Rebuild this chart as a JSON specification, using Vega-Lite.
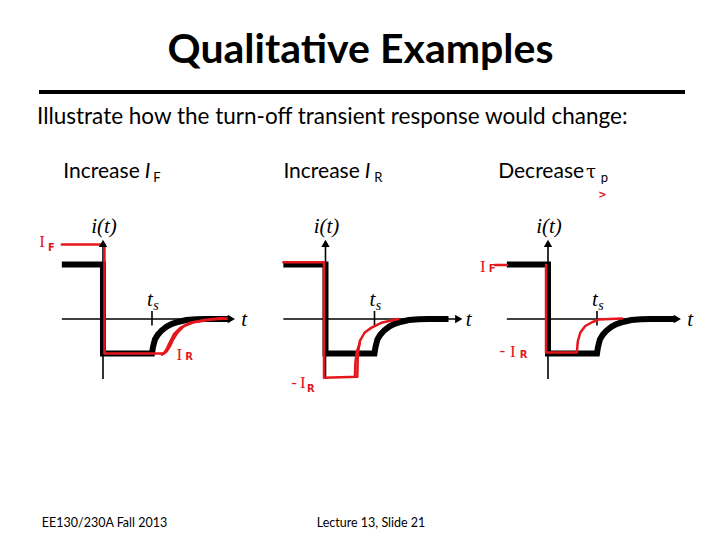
{
"$schema":"https://vega.github.io/schema/vega-lite/v6.json",
"background":"white",
"padding":{"left":37,"top":30,"right":0,"bottom":0},
"title":{"text":"Qualitative Examples","font":"Lato","fontSize":41,"fontWeight":"bold","color":"black","anchor":"middle","offset":5,"dx":-10},
"config":{"view":{"stroke":null},"font":"Lato"},
"datasets":{"d":[
{"panel":"P1","kind":"axis","t":-0.84,"i":0,"t2":2.58,"i2":0},
{"panel":"P1","kind":"axis","t":0,"i":-1.11,"t2":0,"i2":1.38},
{"panel":"P1","kind":"axis","t":1.0,"i":0.15,"t2":1.0,"i2":-0.12},
{"panel":"P1","kind":"arrR","t":2.62,"i":0},
{"panel":"P1","kind":"arrU","t":0,"i":1.4},
{"panel":"P2","kind":"axis","t":-0.86,"i":0,"t2":2.7,"i2":0},
{"panel":"P2","kind":"axis","t":0,"i":-1.11,"t2":0,"i2":1.38},
{"panel":"P2","kind":"axis","t":1.0,"i":0.15,"t2":1.0,"i2":-0.12},
{"panel":"P2","kind":"arrR","t":2.72,"i":0},
{"panel":"P2","kind":"arrU","t":0,"i":1.4},
{"panel":"P3","kind":"axis","t":-0.84,"i":0,"t2":2.6,"i2":0},
{"panel":"P3","kind":"axis","t":0,"i":-1.11,"t2":0,"i2":1.38},
{"panel":"P3","kind":"axis","t":1.0,"i":0.15,"t2":1.0,"i2":-0.12},
{"panel":"P3","kind":"arrR","t":2.64,"i":0},
{"panel":"P3","kind":"arrU","t":0,"i":1.4},

{"panel":"P1","kind":"black","seg":"a","k":1,"t":-0.84,"i":1.01},
{"panel":"P1","kind":"black","seg":"a","k":2,"t":0,"i":1.01},
{"panel":"P1","kind":"black","seg":"a","k":3,"t":0,"i":-0.64},
{"panel":"P1","kind":"black","seg":"a","k":4,"t":1.0,"i":-0.64},
{"panel":"P1","kind":"black","seg":"a","k":5,"t":1.02,"i":-0.52},
{"panel":"P1","kind":"black","seg":"a","k":6,"t":1.06,"i":-0.38},
{"panel":"P1","kind":"black","seg":"a","k":7,"t":1.12,"i":-0.29},
{"panel":"P1","kind":"black","seg":"a","k":8,"t":1.2,"i":-0.21},
{"panel":"P1","kind":"black","seg":"a","k":9,"t":1.3,"i":-0.14},
{"panel":"P1","kind":"black","seg":"a","k":10,"t":1.41,"i":-0.09},
{"panel":"P1","kind":"black","seg":"a","k":11,"t":1.55,"i":-0.05},
{"panel":"P1","kind":"black","seg":"a","k":12,"t":1.7,"i":-0.02},
{"panel":"P1","kind":"black","seg":"a","k":13,"t":1.9,"i":-0.005},
{"panel":"P1","kind":"black","seg":"a","k":14,"t":2.1,"i":0},
{"panel":"P1","kind":"black","seg":"a","k":15,"t":2.58,"i":0},

{"panel":"P2","kind":"black","seg":"a","k":1,"t":-0.86,"i":1.01},
{"panel":"P2","kind":"black","seg":"a","k":2,"t":0,"i":1.01},
{"panel":"P2","kind":"black","seg":"a","k":3,"t":0,"i":-0.64},
{"panel":"P2","kind":"black","seg":"a","k":4,"t":1.0,"i":-0.64},
{"panel":"P2","kind":"black","seg":"a","k":5,"t":1.02,"i":-0.52},
{"panel":"P2","kind":"black","seg":"a","k":6,"t":1.06,"i":-0.38},
{"panel":"P2","kind":"black","seg":"a","k":7,"t":1.12,"i":-0.29},
{"panel":"P2","kind":"black","seg":"a","k":8,"t":1.2,"i":-0.21},
{"panel":"P2","kind":"black","seg":"a","k":9,"t":1.3,"i":-0.14},
{"panel":"P2","kind":"black","seg":"a","k":10,"t":1.41,"i":-0.09},
{"panel":"P2","kind":"black","seg":"a","k":11,"t":1.55,"i":-0.05},
{"panel":"P2","kind":"black","seg":"a","k":12,"t":1.7,"i":-0.02},
{"panel":"P2","kind":"black","seg":"a","k":13,"t":1.9,"i":-0.005},
{"panel":"P2","kind":"black","seg":"a","k":14,"t":2.1,"i":0},
{"panel":"P2","kind":"black","seg":"a","k":15,"t":2.51,"i":0},

{"panel":"P3","kind":"black","seg":"a","k":1,"t":-0.84,"i":1.01},
{"panel":"P3","kind":"black","seg":"a","k":2,"t":0,"i":1.01},
{"panel":"P3","kind":"black","seg":"a","k":3,"t":0,"i":-0.64},
{"panel":"P3","kind":"black","seg":"a","k":4,"t":1.0,"i":-0.64},
{"panel":"P3","kind":"black","seg":"a","k":5,"t":1.02,"i":-0.52},
{"panel":"P3","kind":"black","seg":"a","k":6,"t":1.06,"i":-0.38},
{"panel":"P3","kind":"black","seg":"a","k":7,"t":1.12,"i":-0.29},
{"panel":"P3","kind":"black","seg":"a","k":8,"t":1.2,"i":-0.21},
{"panel":"P3","kind":"black","seg":"a","k":9,"t":1.3,"i":-0.14},
{"panel":"P3","kind":"black","seg":"a","k":10,"t":1.41,"i":-0.09},
{"panel":"P3","kind":"black","seg":"a","k":11,"t":1.55,"i":-0.05},
{"panel":"P3","kind":"black","seg":"a","k":12,"t":1.7,"i":-0.02},
{"panel":"P3","kind":"black","seg":"a","k":13,"t":1.9,"i":-0.005},
{"panel":"P3","kind":"black","seg":"a","k":14,"t":2.1,"i":0},
{"panel":"P3","kind":"black","seg":"a","k":15,"t":2.59,"i":0},

{"panel":"P1","kind":"red","seg":"a","k":1,"t":-0.84,"i":1.38},
{"panel":"P1","kind":"red","seg":"a","k":2,"t":0.03,"i":1.38},
{"panel":"P1","kind":"red","seg":"a","k":3,"t":0.03,"i":-0.64},
{"panel":"P1","kind":"red","seg":"a","k":4,"t":1.24,"i":-0.64},
{"panel":"P1","kind":"red","seg":"a","k":5,"t":1.3,"i":-0.56},
{"panel":"P1","kind":"red","seg":"a","k":6,"t":1.35,"i":-0.46},
{"panel":"P1","kind":"red","seg":"a","k":7,"t":1.45,"i":-0.28},
{"panel":"P1","kind":"red","seg":"a","k":8,"t":1.57,"i":-0.17},
{"panel":"P1","kind":"red","seg":"a","k":9,"t":1.78,"i":-0.07},
{"panel":"P1","kind":"red","seg":"a","k":10,"t":2.08,"i":-0.02},
{"panel":"P1","kind":"red","seg":"a","k":11,"t":2.43,"i":0.02},
{"panel":"P1","kind":"red","seg":"a","k":12,"t":2.57,"i":0},
{"panel":"P1","kind":"red","seg":"b","k":1,"t":1.2,"i":-0.66},
{"panel":"P1","kind":"red","seg":"b","k":2,"t":1.3,"i":-0.6},
{"panel":"P1","kind":"red","seg":"b","k":3,"t":1.37,"i":-0.5},
{"panel":"P1","kind":"red","seg":"b","k":4,"t":1.43,"i":-0.38},
{"panel":"P1","kind":"red","seg":"b","k":5,"t":1.52,"i":-0.25},
{"panel":"P1","kind":"red","seg":"b","k":6,"t":1.65,"i":-0.13},
{"panel":"P1","kind":"red","seg":"b","k":7,"t":1.85,"i":-0.06},
{"panel":"P1","kind":"red","seg":"b","k":8,"t":2.2,"i":-0.01},
{"panel":"P1","kind":"red","seg":"b","k":9,"t":2.5,"i":0.01},

{"panel":"P2","kind":"red","seg":"a","k":1,"t":-0.86,"i":1.05},
{"panel":"P2","kind":"red","seg":"a","k":2,"t":-0.03,"i":1.05},
{"panel":"P2","kind":"red","seg":"a","k":3,"t":-0.03,"i":-1.09},
{"panel":"P2","kind":"red","seg":"a","k":4,"t":0.65,"i":-1.07},
{"panel":"P2","kind":"red","seg":"a","k":5,"t":0.66,"i":-0.65},
{"panel":"P2","kind":"red","seg":"a","k":6,"t":0.7,"i":-0.41},
{"panel":"P2","kind":"red","seg":"a","k":7,"t":0.8,"i":-0.25},
{"panel":"P2","kind":"red","seg":"a","k":8,"t":0.94,"i":-0.16},
{"panel":"P2","kind":"red","seg":"a","k":9,"t":1.14,"i":-0.07},
{"panel":"P2","kind":"red","seg":"a","k":10,"t":1.48,"i":0},
{"panel":"P2","kind":"red","seg":"b","k":1,"t":0.6,"i":-1.07},
{"panel":"P2","kind":"red","seg":"b","k":2,"t":0.61,"i":-0.8},
{"panel":"P2","kind":"red","seg":"b","k":3,"t":0.64,"i":-0.6},
{"panel":"P2","kind":"red","seg":"b","k":4,"t":0.7,"i":-0.45},

{"panel":"P3","kind":"red","seg":"a","k":1,"t":-0.04,"i":1.0},
{"panel":"P3","kind":"red","seg":"a","k":2,"t":-0.04,"i":-0.62},
{"panel":"P3","kind":"red","seg":"a","k":3,"t":0.59,"i":-0.62},
{"panel":"P3","kind":"red","seg":"a","k":4,"t":0.6,"i":-0.5},
{"panel":"P3","kind":"red","seg":"a","k":5,"t":0.61,"i":-0.41},
{"panel":"P3","kind":"red","seg":"a","k":6,"t":0.66,"i":-0.25},
{"panel":"P3","kind":"red","seg":"a","k":7,"t":0.76,"i":-0.13},
{"panel":"P3","kind":"red","seg":"a","k":8,"t":0.9,"i":-0.06},
{"panel":"P3","kind":"red","seg":"a","k":9,"t":1.03,"i":-0.01},
{"panel":"P3","kind":"red","seg":"a","k":10,"t":1.51,"i":0.01},
{"panel":"P3","kind":"red","seg":"c","k":1,"t":-1.08,"i":1.0},
{"panel":"P3","kind":"red","seg":"c","k":2,"t":-0.84,"i":1.0},

{"panel":"P1","kind":"head","label":"Increase","t":-0.03,"i":2.62},
{"panel":"P1","kind":"headI","label":"I","t":0.908,"i":2.62},
{"panel":"P1","kind":"headSub","label":"F","t":1.1,"i":2.54},
{"panel":"P2","kind":"head","label":"Increase","t":-0.08,"i":2.62},
{"panel":"P2","kind":"headI","label":"I","t":0.857,"i":2.62},
{"panel":"P2","kind":"headSub","label":"R","t":1.08,"i":2.54},
{"panel":"P3","kind":"head","label":"Decrease","t":-0.14,"i":2.62},
{"panel":"P3","kind":"headG","label":"τ","t":0.88,"i":2.62},
{"panel":"P3","kind":"headSub","label":"p","t":1.15,"i":2.54},

{"panel":"P1","kind":"math","label":"i(t)","t":0.02,"i":1.7},
{"panel":"P2","kind":"math","label":"i(t)","t":0.02,"i":1.7},
{"panel":"P3","kind":"math","label":"i(t)","t":0.02,"i":1.7},
{"panel":"P1","kind":"math","label":"t","t":0.96,"i":0.36},
{"panel":"P2","kind":"math","label":"t","t":0.96,"i":0.36},
{"panel":"P3","kind":"math","label":"t","t":0.96,"i":0.36},
{"panel":"P1","kind":"mathSub","label":"s","t":1.08,"i":0.24},
{"panel":"P2","kind":"mathSub","label":"s","t":1.08,"i":0.24},
{"panel":"P3","kind":"mathSub","label":"s","t":1.08,"i":0.24},
{"panel":"P1","kind":"math","label":"t","t":2.88,"i":-0.02},
{"panel":"P2","kind":"math","label":"t","t":2.92,"i":-0.02},
{"panel":"P3","kind":"math","label":"t","t":2.9,"i":-0.02},

{"panel":"P1","kind":"redL","label":"I","t":-1.245,"i":1.43},
{"panel":"P1","kind":"redS","label":"F","t":-1.05,"i":1.32},
{"panel":"P1","kind":"redL","label":"I","t":1.56,"i":-0.67},
{"panel":"P1","kind":"redS","label":"R","t":1.755,"i":-0.71},
{"panel":"P2","kind":"redL","label":"-","t":-0.64,"i":-1.18},
{"panel":"P2","kind":"redL","label":"I","t":-0.46,"i":-1.19},
{"panel":"P2","kind":"redS","label":"R","t":-0.3,"i":-1.29},
{"panel":"P3","kind":"redL","label":"I","t":-1.33,"i":0.96},
{"panel":"P3","kind":"redS","label":"F","t":-1.14,"i":0.92},
{"panel":"P3","kind":"redL","label":"-","t":-0.93,"i":-0.6},
{"panel":"P3","kind":"redL","label":"I","t":-0.72,"i":-0.61},
{"panel":"P3","kind":"redS","label":"R","t":-0.5,"i":-0.67},
{"panel":"P3","kind":"redS","label":">","t":1.11,"i":2.29},

{"panel":"P1","kind":"foot","label":"EE130/230A Fall 2013","t":0.03,"i":-3.78},
{"panel":"P2","kind":"foot","label":"Lecture 13, Slide 21","t":0.93,"i":-3.78}
]},
"spacing":65,
"bounds":"flush",
"vconcat":[
{"width":646,"height":15,
 "title":{"text":"Illustrate how the turn-off transient response would change:","orient":"bottom","anchor":"start","font":"Lato","fontSize":22.5,"fontWeight":"normal","color":"black","offset":12},
 "data":{"values":[{}]},
 "mark":{"type":"rule","strokeWidth":4,"color":"black"},
 "encoding":{"y":{"datum":0,"type":"quantitative","scale":{"domain":[0,1]},"axis":null}}},
{"data":{"name":"d"},
 "facet":{"column":{"field":"panel","type":"nominal","header":null}},
 "spacing":2.5,
 "bounds":"flush",
 "spec":{
  "width":220,"height":378,
  "encoding":{
   "x":{"field":"t","type":"quantitative","scale":{"domain":[-1.306,3.184],"nice":false,"zero":false},"axis":null},
   "y":{"field":"i","type":"quantitative","scale":{"domain":[-4.0,3.0],"nice":false,"zero":false},"axis":null}
  },
  "layer":[
   {"transform":[{"filter":"datum.kind==='axis'"}],"mark":{"type":"rule","strokeWidth":1.6,"color":"black"},"encoding":{"x2":{"field":"t2"},"y2":{"field":"i2"}}},
   {"transform":[{"filter":"datum.kind==='black'"}],"mark":{"type":"line","strokeWidth":6,"color":"black","strokeJoin":"miter","strokeCap":"butt"},"encoding":{"detail":{"field":"seg"},"order":{"field":"k"}}},
   {"transform":[{"filter":"datum.kind==='red'"}],"mark":{"type":"line","strokeWidth":2.5,"color":"#e3171c","strokeJoin":"round","strokeCap":"round"},"encoding":{"detail":{"field":"seg"},"order":{"field":"k"}}},
   {"transform":[{"filter":"datum.kind==='arrR'"}],"mark":{"type":"point","shape":"triangle-right","filled":true,"size":70,"color":"black","opacity":1}},
   {"transform":[{"filter":"datum.kind==='arrU'"}],"mark":{"type":"point","shape":"triangle-up","filled":true,"size":70,"color":"black","opacity":1}},
   {"transform":[{"filter":"datum.kind==='head'"}],"mark":{"type":"text","font":"Lato","fontSize":21,"color":"black","align":"center","baseline":"alphabetic"},"encoding":{"text":{"field":"label"}}},
   {"transform":[{"filter":"datum.kind==='headI'"}],"mark":{"type":"text","font":"Lato","fontStyle":"italic","fontSize":21,"color":"black","align":"center","baseline":"alphabetic"},"encoding":{"text":{"field":"label"}}},
   {"transform":[{"filter":"datum.kind==='headG'"}],"mark":{"type":"text","font":"DejaVu Serif","fontSize":18,"color":"black","align":"center","baseline":"alphabetic"},"encoding":{"text":{"field":"label"}}},
   {"transform":[{"filter":"datum.kind==='headSub'"}],"mark":{"type":"text","font":"Lato","fontSize":13,"color":"black","align":"center","baseline":"alphabetic"},"encoding":{"text":{"field":"label"}}},
   {"transform":[{"filter":"datum.kind==='math'"}],"mark":{"type":"text","font":"Liberation Serif","fontStyle":"italic","fontSize":21,"color":"black","align":"center","baseline":"middle"},"encoding":{"text":{"field":"label"}}},
   {"transform":[{"filter":"datum.kind==='mathSub'"}],"mark":{"type":"text","font":"Liberation Serif","fontStyle":"italic","fontSize":14,"color":"black","align":"center","baseline":"middle"},"encoding":{"text":{"field":"label"}}},
   {"transform":[{"filter":"datum.kind==='redL'"}],"mark":{"type":"text","font":"Liberation Serif","fontSize":17,"color":"#e3171c","align":"center","baseline":"middle"},"encoding":{"text":{"field":"label"}}},
   {"transform":[{"filter":"datum.kind==='redS'"}],"mark":{"type":"text","font":"DejaVu Sans","fontWeight":"bold","fontSize":10,"color":"#e3171c","align":"center","baseline":"middle"},"encoding":{"text":{"field":"label"}}},
   {"transform":[{"filter":"datum.kind==='foot'"}],"mark":{"type":"text","font":"Lato","fontSize":12.5,"color":"black","align":"center","baseline":"middle"},"encoding":{"text":{"field":"label"}}}
  ]
 }
}
]
}
